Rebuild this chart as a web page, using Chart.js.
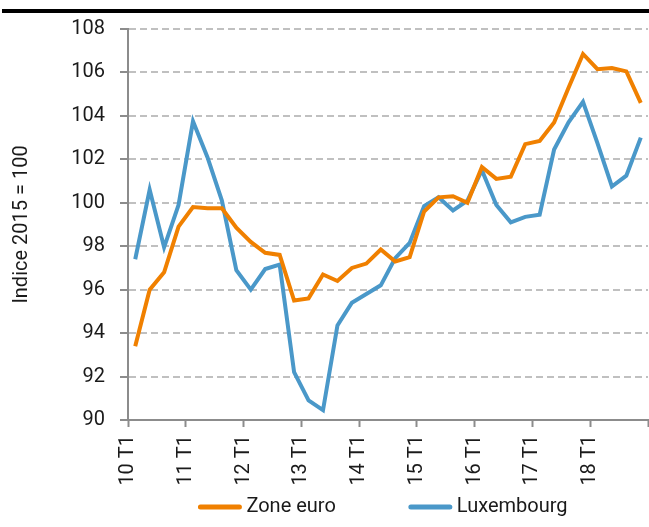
<!DOCTYPE html>
<html>
<head>
<meta charset="utf-8">
<script src="https://cdn.jsdelivr.net/npm/chart.js@4"></script>
<style>
  html, body { margin: 0; padding: 0; background: #fff; }
</style>
</head>
<body>
<canvas id="myChart" width="649" height="527"></canvas>
<script>
// quarters 2010 T1 .. 2018 T4
var quarters = ['10 T1','10 T2','10 T3','10 T4','11 T1','11 T2','11 T3','11 T4',
  '12 T1','12 T2','12 T3','12 T4','13 T1','13 T2','13 T3','13 T4',
  '14 T1','14 T2','14 T3','14 T4','15 T1','15 T2','15 T3','15 T4',
  '16 T1','16 T2','16 T3','16 T4','17 T1','17 T2','17 T3','17 T4',
  '18 T1','18 T2','18 T3','18 T4'];

// labels shown on the x axis (one per year)
var tickLabels = ['10 T1','11 T1','12 T1','13 T1','14 T1','15 T1','16 T1','17 T1','18 T1'];

// Indice 2015 = 100
var zoneEuro = [93.4, 96.0, 96.8, 98.9, 99.8, 99.75, 99.75, 98.85, 98.2, 97.7, 97.6, 95.5,
  95.6, 96.7, 96.4, 97.0, 97.2, 97.85, 97.3, 97.5, 99.6, 100.25, 100.3, 100.0,
  101.65, 101.1, 101.2, 102.7, 102.85, 103.7, 105.3, 106.85, 106.15, 106.2, 106.05, 104.6];

var luxembourg = [97.4, 100.6, 97.95, 99.9, 103.75, 102.1, 100.1, 96.9, 96.0, 96.95, 97.15, 92.2,
  90.9, 90.45, 94.35, 95.4, 95.8, 96.2, 97.45, 98.15, 99.85, 100.25, 99.65, 100.1,
  101.5, 99.9, 99.1, 99.35, 99.45, 102.45, 103.7, 104.65, 102.75, 100.75, 101.25, 103.0];

var yMin = 90, yMax = 108, yStep = 2;

var orange = 'rgb(240,128,0)';
var blue = 'rgb(74,152,201)';
var axisGrey = '#8c8c8c';
var textColor = '#1a1a1a';

function toPoints(values) {
  return values.map(function(v, i) { return {x: i + 0.5, y: v}; });
}

// black rule at the top of the figure
var topRule = {
  id: 'topRule',
  beforeDraw: function(chart) {
    var ctx = chart.ctx;
    ctx.save();
    ctx.fillStyle = '#000';
    ctx.fillRect(2, 9, chart.width - 2, 4);
    ctx.restore();
  }
};

// legend drawn as line samples under the axis
var lineLegend = {
  id: 'lineLegend',
  afterDraw: function(chart) {
    var ctx = chart.ctx;
    var sets = chart.data.datasets;
    var sample = 43, gapText = 5, gapItem = 73, y = 507;
    ctx.save();
    ctx.font = '20px Roboto';
    var total = 0;
    sets.forEach(function(ds, i) {
      total += sample + gapText + ctx.measureText(ds.label).width;
      if (i > 0) total += gapItem;
    });
    var x = (chart.chartArea.left + chart.chartArea.right) / 2 - total / 2 - 5;
    sets.forEach(function(ds) {
      ctx.strokeStyle = ds.borderColor;
      ctx.lineWidth = 5;
      ctx.lineCap = 'round';
      ctx.beginPath();
      ctx.moveTo(x + 2, y);
      ctx.lineTo(x + sample - 2, y);
      ctx.stroke();
      ctx.fillStyle = textColor;
      ctx.textBaseline = 'middle';
      ctx.textAlign = 'left';
      ctx.fillText(ds.label, x + sample + gapText, y);
      x += sample + gapText + ctx.measureText(ds.label).width + gapItem;
    });
    ctx.restore();
  }
};

var ctx = document.getElementById('myChart');

var data = {
  datasets: [{
    label: 'Zone euro',
    data: toPoints(zoneEuro),
    borderColor: orange,
    backgroundColor: orange,
    borderWidth: 4,
    pointRadius: 0,
    tension: 0
  }, {
    label: 'Luxembourg',
    data: toPoints(luxembourg),
    borderColor: blue,
    backgroundColor: blue,
    borderWidth: 4,
    pointRadius: 0,
    tension: 0
  }]
};

var options = {
  responsive: false,
  animation: false,
  layout: {
    padding: { left: 0, right: 1, top: 29, bottom: 30 }
  },
  plugins: {
    legend: { display: false },
    tooltip: { enabled: false }
  },
  scales: {
    x: {
      type: 'linear',
      min: 0,
      max: quarters.length,
      afterFit: function(s) {
        s.height = 77;
        s.paddingLeft = 0;
        s.paddingRight = 0;
      },
      border: { color: axisGrey, width: 2 },
      grid: {
        drawOnChartArea: false,
        drawTicks: true,
        tickLength: 7,
        tickColor: axisGrey,
        tickWidth: 2
      },
      ticks: {
        stepSize: 4,
        autoSkip: false,
        minRotation: 90,
        maxRotation: 90,
        padding: 8,
        color: textColor,
        font: { family: 'Roboto', size: 20 },
        callback: function(value) {
          var l = tickLabels[value / 4];
          return l === undefined ? '' : l;
        }
      }
    },
    y: {
      min: yMin,
      max: yMax,
      afterFit: function(s) { s.width = 128; },
      border: { color: axisGrey, width: 2, dash: [7, 4] },
      grid: {
        color: '#c0c0c0',
        lineWidth: 2,
        tickLength: 8,
        tickColor: axisGrey,
        tickWidth: 2,
        tickBorderDash: []
      },
      ticks: {
        stepSize: yStep,
        padding: 15,
        color: textColor,
        font: { family: 'Roboto', size: 20 }
      },
      title: {
        display: true,
        text: 'Indice 2015 = 100',
        color: textColor,
        font: { family: 'Roboto', size: 20 },
        padding: { top: 10, bottom: 0 }
      }
    }
  }
};

var myChart = new Chart(ctx, {
  type: 'line',
  data: data,
  options: options,
  plugins: [topRule, lineLegend]
});
</script>
</body>
</html>
